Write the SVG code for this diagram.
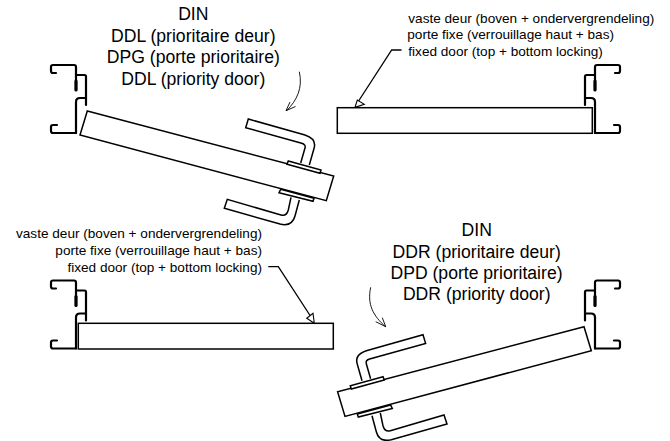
<svg xmlns="http://www.w3.org/2000/svg" width="670" height="441" viewBox="0 0 670 441">
<style>
text{font-family:"Liberation Sans",Arial,sans-serif;fill:#000}
.big{font-size:17.6px;text-anchor:middle}
.small{font-size:13.6px}
.end{text-anchor:end}
.thick{fill:none;stroke:#000;stroke-width:2.2;stroke-linejoin:round;stroke-linecap:round}
.heavy{fill:none;stroke:#000;stroke-width:3.2;stroke-linecap:round}
.door{fill:#fff;stroke:#000;stroke-width:1.5;stroke-linejoin:miter}
.lead{fill:none;stroke:#000;stroke-width:1.3}
.thin{fill:none;stroke:#000;stroke-width:.9}
.head{fill:#fff;stroke:#000;stroke-width:1.1}
</style>
<defs>
<g id="frame">
<path class="thick" d="M56 73H53Q51 73 51 71V67Q51 65 53 65H74Q76 65 76 67V90"/>
<path class="heavy" d="M76 81V90"/>
<path class="thick" d="M77 75H84.500Q86 75 86 76.500V105"/>
<path class="thick" d="M76 133V102Q76 98 80 98H86"/>
<path class="thick" d="M57 125H53Q51 125 51 127V131Q51 133 53 133H76"/>
</g>
<g id="swing">
<path class="door" d="M87.300 111 333.700 176 326.300 200.700 80 135Z"/>
<path class="door" d="M288.300 161 321 170 320 173.300 287 164.300Z"/>
<path class="door" d="M280.700 189.300 314 198.300 313 201.300 279 192.700Z"/>
<path class="door" d="M300.700 163 305 148Q306 144.500 301.700 143.300L245.700 127.700 248.300 119 305 135Q317 139 314 148.500L309.300 165"/>
<path class="door" d="M291 197.300 288.300 210Q286.500 216.500 281 215L227.300 199.300 224.300 208.300 280 224Q292 227 295 216L299.300 200"/>
</g>
</defs>
<g id="connectors">
<path class="thin" d="M299.300 71.700C303 88 297 100 286.700 110.700"/>
<path class="thin" d="M286 110.700 290 102M286 110.700 295.500 106.500"/>
<path class="lead" d="M401.500 50H391.700L356 105"/>
<path class="head" d="M355 107.300 357.300 100 364.300 104.300Z"/>
<path class="lead" d="M268.300 266.700H278.300L313 320"/>
<path class="head" d="M314.300 323.300 306.700 318.300 313 313.300Z"/>
<path class="thin" d="M370.700 287.300C367 304 373 316 385.700 326.700"/>
<path class="thin" d="M385.700 326.700 375.700 321.700M385.700 326.700 382.300 317.700"/>
</g>
<g id="door-top-left">
<use href="#frame"/>
<use href="#swing"/>
<text class="big" x="193.300" y="20">DIN</text>
<text class="big" x="193.300" y="41.500">DDL (prioritaire deur)</text>
<text class="big" x="193.300" y="63">DPG (porte prioritaire)</text>
<text class="big" x="193.300" y="85">DDL (priority door)</text>
</g>
<g id="door-top-right">
<use href="#frame" transform="matrix(-1 0 0 1 671 0)"/>
<rect class="door" x="337.300" y="107.700" width="255" height="25.600"/>
<text class="small" x="408.300" y="23.300">vaste deur (boven + ondervergrendeling)</text>
<text class="small" x="407.300" y="38.800">porte fixe (verrouillage haut + bas)</text>
<text class="small" x="408.300" y="56">fixed door (top + bottom locking)</text>
</g>
<g id="door-bottom-left">
<use href="#frame" transform="translate(0 215.500)"/>
<rect class="door" x="78.300" y="323.300" width="255" height="25.700"/>
<text class="small end" x="262" y="238.300">vaste deur (boven + ondervergrendeling)</text>
<text class="small end" x="262" y="255.300">porte fixe (verrouillage haut + bas)</text>
<text class="small end" x="262" y="271.700">fixed door (top + bottom locking)</text>
</g>
<g id="door-bottom-right">
<use href="#frame" transform="matrix(-1 0 0 1 671 215.500)"/>
<use href="#swing" transform="matrix(-1 0 0 1 671.300 215.700)"/>
<text class="big" x="476.700" y="235.700">DIN</text>
<text class="big" x="476.700" y="257.500">DDR (prioritaire deur)</text>
<text class="big" x="476.500" y="278.500">DPD (porte prioritaire)</text>
<text class="big" x="476.700" y="300">DDR (priority door)</text>
</g>
</svg>
